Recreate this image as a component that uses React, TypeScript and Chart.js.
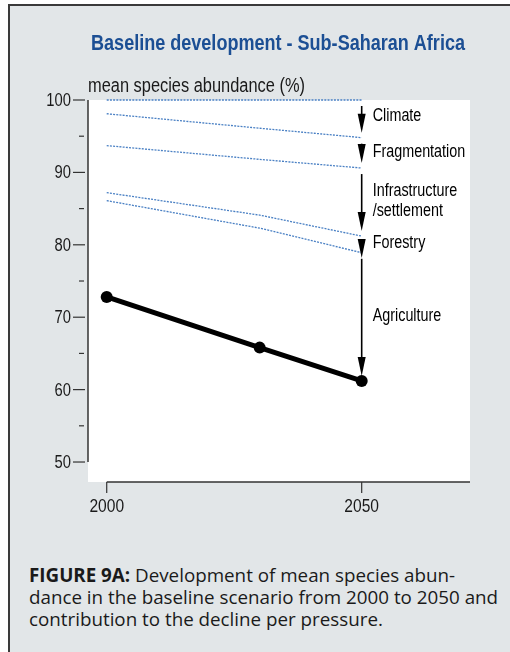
import React, { useEffect, useRef } from "react";
import { Chart, registerables } from "chart.js";

Chart.register(...registerables);

// ---- data ----
const years = [2000, 2030, 2050];
const pristine = [100, 100, 100];
const afterClimate = [98.1, 96.1, 94.8];
const afterFragmentation = [93.7, 91.8, 90.6];
const afterInfrastructure = [87.2, 84.1, 81.2];
const afterForestry = [86.1, 82.3, 78.9];
const msaBaseline = [72.8, 65.8, 61.2];

const pressureLabels = [["Climate"], ["Fragmentation"], ["Infrastructure", "/settlement"], ["Forestry"], ["Agriculture"]];
const yTickValues = [50, 60, 70, 80, 90, 100];
const yMinorTicks = [55, 65, 75, 85, 95];
const xTickValues = [2000, 2050];

const titleText = "Baseline development - Sub-Saharan Africa";
const yAxisTitle = "mean species abundance (%)";

const SANS = '"Liberation Sans", Arial, sans-serif';
const SQUEEZE = 0.82;

function narrowText(ctx: any, text: string, x: number, y: number, font: string, align: string) {
  ctx.save();
  ctx.font = font;
  ctx.textAlign = align;
  ctx.textBaseline = "middle";
  ctx.translate(x, y);
  ctx.scale(SQUEEZE, 1);
  ctx.fillText(text, 0, 0);
  ctx.restore();
}

const drawPlugin = {
  id: "custom-draw",
  beforeDatasetsDraw(chart: any) {
    const { ctx, chartArea, scales } = chart;
    const xs = scales.x;
    const ys = scales.y;
    ctx.save();
    // white plot panel
    ctx.fillStyle = "#ffffff";
    ctx.fillRect(chartArea.left, chartArea.top, chartArea.right - chartArea.left, chartArea.bottom - chartArea.top);

    // y axis line
    ctx.strokeStyle = "#333333";
    ctx.lineWidth = 1.5;
    ctx.beginPath();
    ctx.moveTo(chartArea.left, ys.getPixelForValue(100));
    ctx.lineTo(chartArea.left, ys.getPixelForValue(50));
    ctx.stroke();

    // y ticks
    ctx.lineWidth = 1.2;
    yTickValues.forEach((v) => {
      const y = ys.getPixelForValue(v);
      ctx.beginPath();
      ctx.moveTo(chartArea.left - 15, y);
      ctx.lineTo(chartArea.left - 3, y);
      ctx.stroke();
    });
    yMinorTicks.forEach((v) => {
      const y = ys.getPixelForValue(v);
      ctx.beginPath();
      ctx.moveTo(chartArea.left - 9, y);
      ctx.lineTo(chartArea.left - 4, y);
      ctx.stroke();
    });
    ctx.fillStyle = "#1a1a1a";
    yTickValues.forEach((v) => {
      narrowText(ctx, String(v), chartArea.left - 17, ys.getPixelForValue(v) + 1, `18px ${SANS}`, "right");
    });

    // x axis line
    ctx.lineWidth = 1.5;
    ctx.beginPath();
    ctx.moveTo(xs.getPixelForValue(2000), chartArea.bottom);
    ctx.lineTo(chartArea.right, chartArea.bottom);
    ctx.stroke();
    ctx.lineWidth = 1.2;
    xTickValues.forEach((v) => {
      const x = xs.getPixelForValue(v);
      ctx.beginPath();
      ctx.moveTo(x, chartArea.bottom);
      ctx.lineTo(x, chartArea.bottom + 11);
      ctx.stroke();
      narrowText(ctx, String(v), x, chartArea.bottom + 25, `19px ${SANS}`, "center");
    });

    // title and axis title
    ctx.fillStyle = "#1c4f94";
    narrowText(ctx, titleText, 278, 44, `bold 22px ${SANS}`, "center");
    ctx.fillStyle = "#1a1a1a";
    narrowText(ctx, yAxisTitle, chartArea.left, 86, `20px ${SANS}`, "left");
    ctx.restore();
  },
  afterDatasetsDraw(chart: any) {
    const { ctx, scales } = chart;
    const xs = scales.x;
    const ys = scales.y;
    const last = years.length - 1;
    const stack = [pristine, afterClimate, afterFragmentation, afterInfrastructure, afterForestry, msaBaseline];
    const x = xs.getPixelForValue(years[last]);
    ctx.save();
    ctx.strokeStyle = "#000";
    ctx.fillStyle = "#000";
    for (let i = 0; i < stack.length - 1; i++) {
      const yTop = ys.getPixelForValue(stack[i][last]);
      const yBot = ys.getPixelForValue(stack[i + 1][last]);
      const start = yTop + 6;
      const tip = Math.max(yBot - 5, yTop + 22);
      const headLen = 19;
      const headStart = tip - headLen;
      if (headStart > start) {
        ctx.lineWidth = 1.6;
        ctx.beginPath();
        ctx.moveTo(x, start);
        ctx.lineTo(x, headStart + 1);
        ctx.stroke();
      }
      ctx.beginPath();
      ctx.moveTo(x - 4, headStart);
      ctx.lineTo(x + 4, headStart);
      ctx.lineTo(x, tip);
      ctx.closePath();
      ctx.fill();

      // label
      const lines = pressureLabels[i];
      const mid = (yTop + yBot) / 2 - (i === 0 ? 3 : 1);
      const lh = 20;
      lines.forEach((t, k) => {
        narrowText(ctx, t, x + 11, mid + (k - (lines.length - 1) / 2) * lh, `17.5px ${SANS}`, "left");
      });
    }
    ctx.restore();
  },
};

function App() {
  const ref = useRef<HTMLCanvasElement>(null);
  useEffect(() => {
    if (!ref.current) return;
    const blue = (data: number[]) => ({
      data: years.map((yr, i) => ({ x: yr, y: data[i] })),
      borderColor: "#4a80c4",
      borderWidth: 1.3,
      borderDash: [2, 1.2],
      pointRadius: 0,
      fill: false,
      tension: 0,
      clip: false as any,
    });
    const chart = new Chart(ref.current, {
      type: "line",
      data: {
        datasets: [
          blue(pristine),
          blue(afterClimate),
          blue(afterFragmentation),
          blue(afterInfrastructure),
          blue(afterForestry),
          {
            data: years.map((yr, i) => ({ x: yr, y: msaBaseline[i] })),
            borderColor: "#000",
            backgroundColor: "#000",
            borderWidth: 5,
            pointRadius: 6,
            pointBorderWidth: 0,
            pointBackgroundColor: "#000",
            tension: 0,
            clip: false as any,
          },
        ],
      },
      options: {
        responsive: false,
        animation: false,
        layout: { padding: { left: 88, right: 40, top: 100, bottom: 38 } },
        plugins: { legend: { display: false }, title: { display: false }, tooltip: { enabled: false } },
        scales: {
          x: { type: "linear", min: 1996.33, max: 2071.24, display: false },
          y: { type: "linear", min: 47.24, max: 100, display: false },
        },
      },
      plugins: [drawPlugin],
    });
    return () => chart.destroy();
  }, []);

  return (
    <div
      style={{
        position: "absolute",
        left: 8,
        top: 4,
        width: 502,
        height: 648,
        boxSizing: "border-box",
        borderLeft: "2px solid #3a3a3a",
        borderTop: "2px solid #3a3a3a",
        background: "#e2e6e8",
        overflow: "hidden",
      }}
    >
      <canvas
        ref={ref}
        width={510}
        height={520}
        style={{ position: "absolute", left: -10, top: -6, width: 510, height: 520 }}
      />
      <div
        style={{
          position: "absolute",
          left: 19,
          top: 558,
          fontFamily: '"Open Sans", "Noto Sans", sans-serif',
          fontSize: 18.8,
          lineHeight: "22px",
          color: "#1a1a1a",
          whiteSpace: "nowrap",
        }}
      >
        <b>FIGURE 9A:</b> Development of mean species abun-
        <br />
        dance in the baseline scenario from 2000 to 2050 and
        <br />
        contribution to the decline per pressure.
      </div>
    </div>
  );
}

export default App;
